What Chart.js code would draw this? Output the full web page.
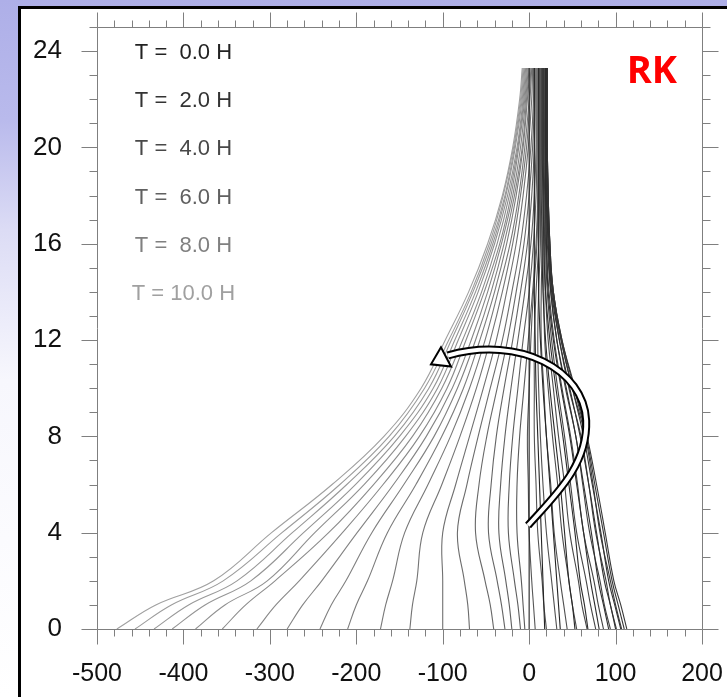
<!DOCTYPE html>
<html lang="en">
<head>
    <meta charset="UTF-8">
    <title>RK material lines</title>
    <script src="https://cdn.jsdelivr.net/npm/chart.js"></script>
    <style>
        body {
            margin: 0;
            width: 727px;
            height: 697px;
            overflow: hidden;
            position: relative;
            background: linear-gradient(180deg, #aeafe8 0px, #b9baec 120px, #dcdcf5 230px, #f7f7fd 380px, #ffffff 697px);
        }

        .frame {
            position: absolute;
            left: 18px;
            top: 6px;
            width: 800px;
            height: 800px;
            border: 3px solid #000;
            background: #fff;
        }

        #chart {
            position: absolute;
            left: 0;
            top: 0;
        }
    </style>
</head>

<body>
    <div class="frame"></div>
    <canvas id="chart" width="727" height="697"></canvas>

    <script>
        // heights (km) where each line is read
        const heights = [0, 1, 2, 4, 6, 8, 10, 12, 14, 16, 18, 20, 22, 23.3];

        // output times (hours), one line every 15 min
        const times = [0, 0.25, 0.5, 0.75, 1, 1.25, 1.5, 1.75, 2, 2.25, 2.5,
            2.75, 3, 3.25, 3.5, 3.75, 4, 4.25, 4.5, 4.75, 5, 5.25,
            5.5, 5.75, 6, 6.25, 6.5, 6.75, 7, 7.25, 7.5, 7.75, 8, 8.25, 8.5, 8.75, 9, 9.25, 9.5, 9.75, 10];

        // x displacement of each line, T = 0 .. 2.5 H (bottom swings east)
        const xEarly = [
            [0, 0, 0, 0, 0, 0, 0, 0, 0, 0, 0, 0, 0, 0],
            [18, 17, 16, 14, 12, 10, 8, 7, 6, 6, 6, 6, 6, 6],
            [36, 34, 32, 28, 24, 20, 16, 13, 11, 11, 11, 11, 11, 11],
            [53, 50, 46, 41, 36, 30, 24, 19, 16, 15, 15, 15, 15, 15],
            [68, 64, 59, 53, 46, 39, 31, 24, 19, 17, 17, 17, 17, 17],
            [81, 76, 71, 63, 55, 47, 37, 28, 22, 20, 19, 19, 19, 19],
            [92, 86, 80, 72, 63, 54, 43, 32, 25, 22, 20, 20, 20, 20],
            [100, 94, 87, 78, 69, 59, 47, 35, 26, 23, 21, 21, 21, 21],
            [106, 99, 92, 83, 73, 63, 50, 37, 27, 24, 22, 21, 21, 21],
            [110, 103, 96, 86, 76, 66, 52, 38, 28, 24, 22, 21, 21, 21],
            [113, 106, 98, 88, 78, 67, 53, 38, 28, 24, 22, 21, 21, 21]
        ];

        // T = 2.75 .. 5.25 H (turning back)
        const xTurn = [
            [107, 100, 94, 82, 74, 65, 50, 37, 28, 23, 22, 21, 21, 21],
            [101, 94, 89, 77, 69, 60, 46, 35, 27, 22, 21, 20, 20, 20],
            [94, 87, 82, 70, 62, 54, 42, 32, 25, 21, 20, 19, 19, 19],
            [86, 80, 75, 63, 56, 48, 38, 29, 23, 20, 19, 18, 18, 18],
            [77, 71, 66, 55, 48, 41, 33, 26, 21, 19, 18, 17, 17, 17],
            [67, 61, 57, 47, 41, 34, 28, 22, 19, 18, 17, 16, 16, 16],
            [55, 50, 46, 38, 33, 27, 22, 18, 17, 17, 16, 15, 15, 15],
            [44, 40, 36, 29, 25, 20, 17, 14, 14, 15, 14, 14, 14, 14],
            [32, 29, 26, 20, 16, 13, 11, 10, 11, 13, 13, 13, 13, 13],
            [20, 17, 15, 10, 8, 6, 6, 6, 8, 11, 12, 12, 12, 12],
            [7, 5, 3, 0, -1, -2, 0, 2, 5, 9, 10, 11, 11, 11]
        ];

        // T = 5.5 .. 10 H (sweeping west)
        const xLate = [
            [-5, -7, -9, -14, -14, -11, -6, -1, 4, 8, 10, 10, 10, 10],
            [-10, -13, -17, -24, -23, -19, -13, -7, 0, 5, 8, 9, 9, 9],
            [-20, -23, -27, -35, -33, -28, -21, -13, -5, 2, 6, 8, 8, 8],
            [-28, -32, -37, -47, -44, -38, -29, -19, -10, -2, 3, 6, 7, 7],
            [-41, -45, -51, -62, -58, -49, -37, -25, -15, -6, 0, 4, 6, 6],
            [-69, -71, -75, -83, -72, -59, -45, -31, -20, -10, -3, 2, 5, 5],
            [-100, -100, -100, -100, -85, -69, -53, -38, -26, -15, -7, -1, 3, 4],
            [-138, -135, -130, -123, -101, -80, -61, -45, -31, -19, -10, -3, 1, 3],
            [-172, -166, -158, -144, -117, -91, -69, -51, -36, -22, -12, -5, 0, 2],
            [-210, -200, -187, -164, -131, -101, -76, -57, -40, -26, -15, -7, -2, 1],
            [-242, -229, -212, -182, -145, -110, -83, -62, -44, -29, -17, -8, -3, 0],
            [-280, -262, -240, -199, -157, -119, -89, -67, -48, -32, -19, -10, -4, -1],
            [-315, -293, -266, -216, -169, -127, -95, -73, -52, -34, -21, -12, -5, -2],
            [-355, -328, -294, -232, -180, -135, -101, -77, -55, -37, -23, -13, -6, -3],
            [-386, -352, -303, -248, -191, -143, -106, -82, -59, -40, -25, -14, -7, -4],
            [-413, -375, -322, -261, -201, -150, -111, -86, -62, -42, -27, -16, -8, -5],
            [-434, -394, -338, -274, -211, -156, -116, -90, -65, -44, -28, -17, -9, -6],
            [-456, -414, -354, -286, -219, -162, -121, -93, -67, -46, -30, -18, -10, -7],
            [-477, -432, -365, -298, -228, -168, -125, -97, -70, -48, -31, -19, -11, -8]
        ];

        const legendHours = [0, 2, 4, 6, 8, 10];
        const legendLabels = ["T =  0.0 H", "T =  2.0 H", "T =  4.0 H", "T =  6.0 H", "T =  8.0 H", "T = 10.0 H"];
        const legendLevels = [24, 22, 20, 18, 16, 14];

        const FONT = "'Liberation Sans', Arial, Helvetica, sans-serif";

        // grey shade per hour, dark at start, pale at the end
        const greyStops = [0x22, 0x33, 0x48, 0x60, 0x80, 0xa0];
        function greyFor(t) {
            let i = Math.min(Math.floor(t / 2), 4);
            let f = (t - i * 2) / 2;
            let g = Math.round(greyStops[i] + (greyStops[i + 1] - greyStops[i]) * f);
            return `rgb(${g}, ${g}, ${g})`;
        }

        const allLines = xEarly.concat(xTurn, xLate);
        const datasets = allLines.map((xs, i) => ({
            label: "T = " + times[i] + " H",
            data: xs.map((x, k) => ({ x: x, y: heights[k] })),
            showLine: true,
            borderColor: greyFor(times[i]),
            borderWidth: 1.1,
            pointRadius: 0,
            tension: 0.4,
            fill: false
        }));

        // outward ticks on all four sides, like the original plot
        const axisFrame = {
            id: "axisFrame",
            afterDatasetsDraw(chart) {
                const { ctx, chartArea: a, scales: { x, y } } = chart;
                ctx.save();
                ctx.strokeStyle = "#7f7f7f";
                ctx.lineWidth = 1;
                ctx.beginPath();
                let L = Math.round(a.left) + 0.5, R = Math.round(a.right) + 0.5;
                let T = Math.round(a.top) + 0.5, B = Math.round(a.bottom) + 0.5;
                ctx.moveTo(L, T); ctx.lineTo(R, T); ctx.lineTo(R, B); ctx.lineTo(L, B); ctx.closePath();
                for (let v = -500; v <= 200; v += 20) {
                    let px = Math.round(x.getPixelForValue(v)) + 0.5;
                    let len = v % 100 === 0 ? 15 : 7;
                    ctx.moveTo(px, B); ctx.lineTo(px, B + len);
                    ctx.moveTo(px, T); ctx.lineTo(px, T - len);
                }
                for (let v = 0; v <= 25; v++) {
                    let py = Math.round(y.getPixelForValue(v)) + 0.5;
                    let len = v % 4 === 0 ? 16 : 8;
                    ctx.moveTo(L, py); ctx.lineTo(L - len, py);
                    ctx.moveTo(R, py); ctx.lineTo(R + len, py);
                }
                ctx.stroke();

                // legend text
                ctx.font = "22px " + FONT;
                ctx.textAlign = "center";
                ctx.textBaseline = "alphabetic";
                legendLabels.forEach((s, i) => {
                    ctx.fillStyle = greyFor(legendHours[i]);
                    ctx.fillText(s.replace("  ", " \u00a0"), x.getPixelForValue(-400), y.getPixelForValue(legendLevels[i]) + 8);
                });

                // RK tag
                ctx.font = "bold 38px 'Open Sans', 'Noto Sans', sans-serif";
                ctx.fillStyle = "#ff0000";
                ctx.fillText("RK", x.getPixelForValue(142), y.getPixelForValue(22.66));

                // curved hollow arrow
                const P = (vx, vy) => [x.getPixelForValue(vx), y.getPixelForValue(vy)];
                const p0 = P(-1.3, 4.3), c1 = P(30, 5.55), c2 = P(68, 6.8), p1 = P(66, 8.66);
                const c3 = P(63.5, 10.75), c4 = P(-10, 12.2), p2 = P(-94, 11.36);
                function shaft() {
                    ctx.beginPath();
                    ctx.moveTo(p0[0], p0[1]);
                    ctx.bezierCurveTo(c1[0], c1[1], c2[0], c2[1], p1[0], p1[1]);
                    ctx.bezierCurveTo(c3[0], c3[1], c4[0], c4[1], p2[0], p2[1]);
                }
                ctx.lineCap = "butt";
                shaft(); ctx.strokeStyle = "#000"; ctx.lineWidth = 8; ctx.stroke();
                shaft(); ctx.strokeStyle = "#fff"; ctx.lineWidth = 4; ctx.stroke();
                const h1 = P(-102, 11.7), h2 = P(-90.4, 10.9), tip = P(-113.6, 10.99);
                ctx.beginPath();
                ctx.moveTo(h1[0], h1[1]); ctx.lineTo(tip[0], tip[1]); ctx.lineTo(h2[0], h2[1]); ctx.closePath();
                ctx.fillStyle = "#fff"; ctx.fill();
                ctx.strokeStyle = "#000"; ctx.lineWidth = 2; ctx.stroke();
                ctx.restore();
            }
        };

        new Chart(document.getElementById("chart").getContext("2d"), {
            type: "scatter",
            data: { datasets: datasets },
            options: {
                responsive: false,
                animation: false,
                layout: { padding: { top: 27, right: 25, left: 0, bottom: 0 } },
                plugins: { legend: { display: false }, tooltip: { enabled: false } },
                scales: {
                    x: {
                        type: "linear",
                        min: -500,
                        max: 200,
                        afterFit: s => { s.height = 68; s.paddingLeft = 0; s.paddingRight = 0; },
                        grid: { display: false, drawTicks: false },
                        border: { display: false },
                        ticks: { stepSize: 100, padding: 30, color: "#111", maxRotation: 0, font: { size: 25, family: FONT } }
                    },
                    y: {
                        min: 0,
                        max: 25,
                        afterFit: s => { s.width = 97; s.paddingTop = 0; s.paddingBottom = 0; },
                        grid: { display: false, drawTicks: false },
                        border: { display: false },
                        ticks: { stepSize: 4, includeBounds: false, padding: 35, color: "#111", font: { size: 26, family: FONT } }
                    }
                }
            },
            plugins: [axisFrame]
        });
    </script>
</body>

</html>
